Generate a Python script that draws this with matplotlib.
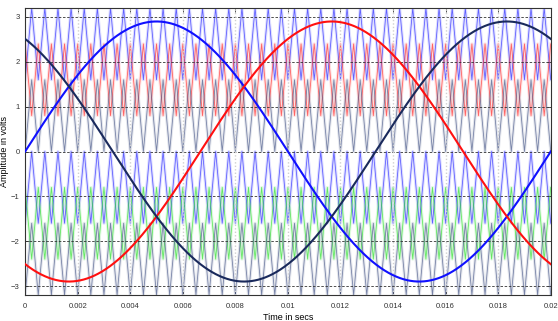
import matplotlib.pyplot as plt
import numpy as np

FONT = "Liberation Sans"
TICK_FONT_SIZE = 5.5
LABEL_FONT_SIZE = 6.5

# time axis (seconds)
t_start = 0.0
t_end = 0.02
n_samples = 4001

# three-phase modulating sine waves
sine_amplitude = 2.9
sine_freq = 50.0
sine_phase_deg = [0, -120, 120]
sine_colors = ["#1010ff", "#ff1010", "#1a2a5c"]

# level-shifted triangular carriers
carrier_freq = 2000.0
carrier_low = [1.6, 0.8, 0.0, -1.6, -2.4, -3.2]
carrier_high = [3.2, 2.4, 1.6, 0.0, -0.8, -1.6]
carrier_shift = [0.5, 0.0, 0.5, 0.5, 0.0, 0.5]
carrier_colors = ["#2b2bff", "#ff3030", "#4a5a8a", "#2b2bff", "#30e030", "#4a5a8a"]

x_ticks = [0, 0.002, 0.004, 0.006, 0.008, 0.01, 0.012, 0.014, 0.016, 0.018, 0.02]
x_tick_labels = ["0", "0.002", "0.004", "0.006", "0.008", "0.01",
                 "0.012", "0.014", "0.016", "0.018", "0.02"]
y_ticks = [-3, -2, -1, 0, 1, 2, 3]

plt.rcParams["font.family"] = FONT

t = np.linspace(t_start, t_end, n_samples)

fig = plt.figure(figsize=(5.58, 3.21), dpi=100)
ax = fig.add_axes([0.045, 0.081, 0.942, 0.894])

for lo, hi, sh, c in zip(carrier_low, carrier_high, carrier_shift, carrier_colors):
    tri = np.abs(((t * carrier_freq + sh) % 1.0) * 2 - 1)
    y = lo + (hi - lo) * tri
    ax.plot(t, y, color=c, lw=2.2, alpha=0.15, zorder=1)
    ax.plot(t, y, color=c, lw=0.6, alpha=0.7, zorder=2)

for ph, c in zip(sine_phase_deg, sine_colors):
    y = sine_amplitude * np.sin(2 * np.pi * sine_freq * t + np.deg2rad(ph))
    ax.plot(t, y, color=c, lw=1.5, zorder=5)

for yt in y_ticks:
    ax.axhline(yt, color="#333333", lw=0.6, ls=(0, (3, 2)), zorder=3)
for xt in x_ticks[1:-1]:
    ax.axvline(xt, color="#d0d0d0", lw=1.0, ls=(0, (1, 1.5)), zorder=3)

ax.set_xlim(t_start, t_end)
ax.set_ylim(-3.2, 3.2)
ax.set_xticks(x_ticks)
ax.set_xticklabels(x_tick_labels)
ax.set_yticks(y_ticks)
ax.tick_params(direction="in", length=3, width=0.6, labelsize=TICK_FONT_SIZE,
               top=True, right=True, colors="#333333")
ax.tick_params(axis="x", pad=6)
ax.tick_params(axis="y", pad=4)
for s in ax.spines.values():
    s.set_linewidth(0.8)
    s.set_color("#333333")

ax.set_xlabel("Time in secs", fontsize=LABEL_FONT_SIZE, labelpad=2)
ax.set_ylabel("Amplitude in volts", fontsize=LABEL_FONT_SIZE, labelpad=1)

fig.savefig("out.png", dpi=100)
